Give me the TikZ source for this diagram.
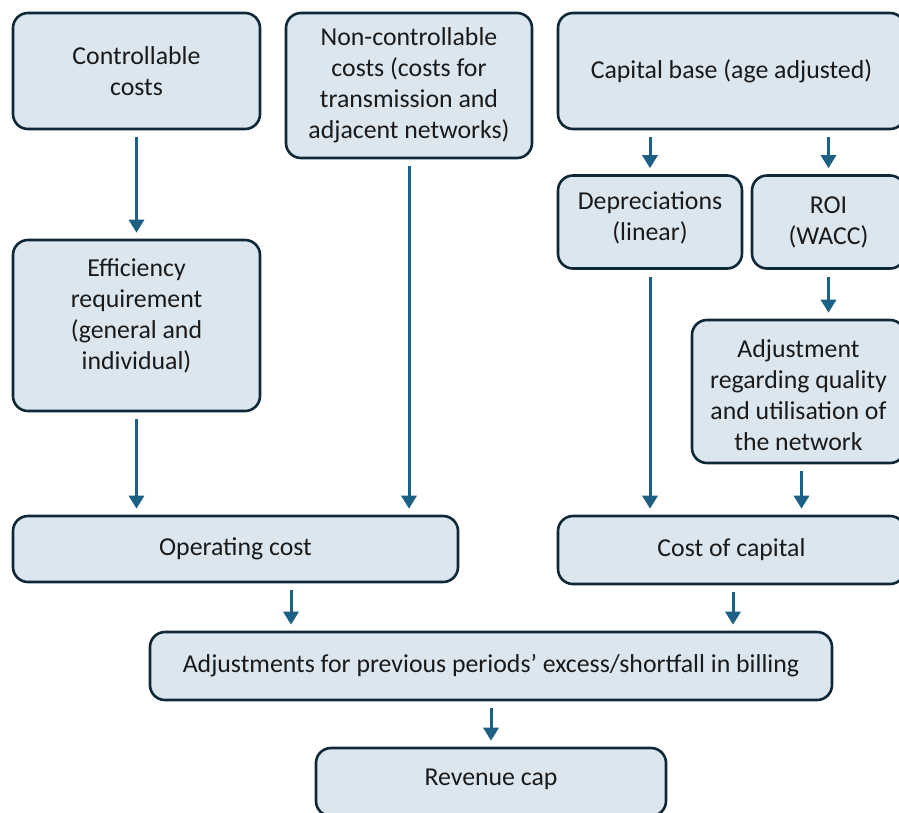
\documentclass[tikz,border=0pt]{standalone}
\usepackage{fontspec}
\setmainfont{Carlito}
\usetikzlibrary{arrows.meta}
\definecolor{boxfill}{HTML}{DCE6EE}
\definecolor{boxline}{HTML}{0E2838}
\definecolor{arrowc}{HTML}{1C6185}
\definecolor{txt}{HTML}{1A1A1A}
\tikzset{
  box/.style={draw=boxline, fill=boxfill, line width=2.6pt, rounded corners=15pt,
    align=center, font=\fontsize{25.8}{31}\selectfont, text=txt, inner sep=0pt},
  boxtext/.style={align=center, font=\fontsize{25.8}{31}\selectfont, text=txt, inner sep=0pt},
  arr/.style={draw=arrowc, line width=3pt, -{Triangle[width=15pt,length=13pt]},
    shorten <=7pt, shorten >=6pt}
}
\begin{document}
\begin{tikzpicture}[x=1pt,y=1pt]
\useasboundingbox (0,0) rectangle (899,-812);
\node[box, minimum width=247pt, minimum height=116pt] (cc) at (136.5,-71) {Controllable\\costs};
\node[box, minimum width=246pt, minimum height=145pt] (nc) at (409,-85.5) {Non-controllable\\costs (costs for\\transmission and\\adjacent networks)};
\node[box, minimum width=347pt, minimum height=116pt] (cap) at (731.5,-71) {Capital base (age adjusted)};
\node[box, minimum width=184pt, minimum height=93pt] (dep) at (650,-222) {};
\node[boxtext] (dept) at ([yshift=4pt]dep.center) {Depreciations\\(linear)};
\node[box, minimum width=153pt, minimum height=93pt] (roi) at (828.5,-222) {ROI\\(WACC)};
\node[box, minimum width=247pt, minimum height=171pt] (eff) at (136.5,-325.5) {};
\node[boxtext] (efft) at ([yshift=10pt]eff.center) {Efficiency\\requirement\\(general and\\individual)};
\node[box, minimum width=213pt, minimum height=143pt] (adq) at (798.5,-391.5) {};
\node[boxtext] (adqt) at ([yshift=-4pt]adq.center) {Adjustment\\regarding quality\\and utilisation of\\the network};
\node[box, minimum width=445pt, minimum height=66pt] (op) at (235.5,-549) {Operating cost};
\node[box, minimum width=347pt, minimum height=68pt] (coc) at (731.5,-550) {Cost of capital};
\node[box, minimum width=682pt, minimum height=68pt] (adp) at (491,-666) {Adjustments for previous periods’ excess/shortfall in billing};
\node[box, minimum width=350pt, minimum height=68pt] (rev) at (491,-782) {};
\node[boxtext] (revt) at ([yshift=3pt]rev.center) {Revenue cap};

\draw[arr] (cc.south) -- (eff.north);
\draw[arr] (eff.south) -- (eff.south |- op.north);
\draw[arr] (nc.south) -- (nc.south |- op.north);
\draw[arr] (dep.north |- cap.south) -- (dep.north);
\draw[arr] (roi.north |- cap.south) -- (roi.north);
\draw[arr] (dep.south) -- (dep.south |- coc.north);
\draw[arr] (roi.south) -- (roi.south |- adq.north);
\draw[arr] ([xshift=3pt]adq.south) -- ([xshift=3pt]adq.south |- coc.north);
\draw[arr] ([xshift=55.5pt]op.south) -- ([xshift=55.5pt]op.south |- adp.north);
\draw[arr] ([xshift=1.5pt]coc.south) -- ([xshift=1.5pt]coc.south |- adp.north);
\draw[arr] (adp.south) -- (rev.north);
\end{tikzpicture}
\end{document}
